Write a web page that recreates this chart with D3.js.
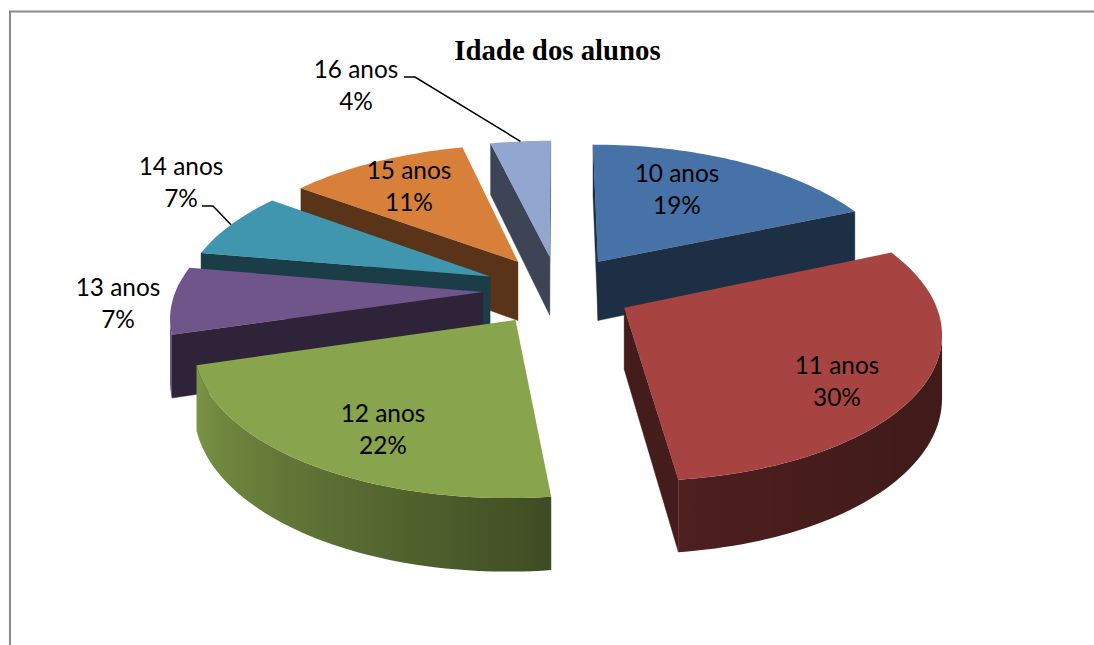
<!DOCTYPE html>
<html><head><meta charset="utf-8">
<script src="https://cdn.jsdelivr.net/npm/d3@7"></script>
<style>html,body{margin:0;padding:0;background:#fff;overflow:hidden}svg{display:block}</style>
</head><body><svg id="c" width="1094" height="645"></svg>
<script>
const title = "Idade dos alunos";
const categories = ["10 anos","11 anos","12 anos","13 anos","14 anos","15 anos","16 anos"];
const students = [5,8,6,2,2,3,1];
const topColors = ["#4672a7","#a74442","#88a44c","#70558b","#4096ae","#d8803a","#92a7cf"];

// layout
const W=1094,H=645;
const cam={cx:558,cy:290,k:0.00048,t:0.463};
const R=307, EXPLODE=75, DEPTH=60.5;
const labelPos=[[677,190],[837,382],[383,430],[118,304],[181,183],[409,187],[356,86]];
const drawOrder=[6,0,5,4,3,1,2];
const leaders={6:[[404,77],[415,77]],4:[[202,206],[213,206]]};

const svg=d3.select("#c");
const defs=svg.append("defs");
const rad=d=>d*Math.PI/180;
function project(X,Y,Z){const s=1/(1-cam.k*Y);return [cam.cx+X*s, cam.cy+(Y*cam.t-Z)*s];}
const pie=d3.pie().sort(null).value(d=>d);
const arcs=pie(students);
const total=d3.sum(students);
const pct=d3.format(".0%");
const shade=d3.scaleLinear().domain([60,130,173,210,255,300,360]).range([.38,.39,.46,.68,.92,.5,.42]);
const RADIAL=.41;
function dim(c,f){const r=d3.rgb(c);return d3.rgb(r.r*f,r.g*f,r.b*f).formatHex();}
function area(p){let a=0;p.forEach((q,i)=>{const n=p[(i+1)%p.length];a+=q[0]*n[1]-n[0]*q[1];});return a/2;}
const line=d3.line();

function slicePts(a){
  const mid=(a.startAngle+a.endAngle)/2;
  const ox=Math.sin(mid)*EXPLODE, oy=-Math.cos(mid)*EXPLODE;
  const n=Math.max(12,Math.ceil((a.endAngle-a.startAngle)/rad(1.5)));
  const angs=d3.range(n+1).map(i=>a.startAngle+(a.endAngle-a.startAngle)*i/n);
  const pt=(ang,r,z)=>project(ox+Math.sin(ang)*r,oy-Math.cos(ang)*r,z);
  return {angs,pt};
}
const g=svg.append("g");
svg.append("path").attr("d",line([[10,H],[10,11.5],[W,11.5]])).attr("fill","none").attr("stroke","#8a8a8a").attr("stroke-width",2);

drawOrder.forEach(i=>{
  const a=arcs[i], {angs,pt}=slicePts(a), col=topColors[i];
  const sg=g.append("g");
  const ap=z=>pt(0,0,z), st=z=>pt(angs[0],R,z), en=z=>pt(angs[angs.length-1],R,z);
  const quad=(p,q)=>[p(0),q(0),q(-DEPTH),p(-DEPTH)];
  [[ap,st],[en,ap]].forEach(([p,q])=>{
    const poly=quad(p,q);
    if(area(poly)<0){const f=dim(col,RADIAL);sg.append("path").attr("d",line(poly)+"Z").attr("fill",f).attr("stroke",f).attr("stroke-width",.4);}
  });
  // outer wall: visible angle run, one path with a horizontal gradient of the shade
  const vis=[];
  for(let j=0;j<angs.length-1;j++){
    const p=z=>pt(angs[j],R,z), q=z=>pt(angs[j+1],R,z);
    if(area(quad(p,q))<0){ if(!vis.includes(angs[j])) vis.push(angs[j]); vis.push(angs[j+1]); }
  }
  if(vis.length>1){
    const topEdge=vis.map(t=>pt(t,R,0)), botEdge=vis.map(t=>pt(t,R,-DEPTH)).reverse();
    const xs=topEdge.concat(botEdge).map(d=>d[0]);
    const x0=d3.min(xs), x1=d3.max(xs);
    const id="w"+i;
    const lg=defs.append("linearGradient").attr("id",id).attr("gradientUnits","userSpaceOnUse")
      .attr("x1",x0).attr("x2",x1).attr("y1",0).attr("y2",0);
    const stops=vis.map(t=>({o:(pt(t,R,-DEPTH/2)[0]-x0)/(x1-x0),c:dim(col,shade(t*180/Math.PI))})).sort((u,v)=>u.o-v.o);
    stops.forEach(s=>lg.append("stop").attr("offset",Math.min(1,Math.max(0,s.o))).attr("stop-color",s.c));
    sg.append("path").attr("d",line(topEdge.concat(botEdge))+"Z").attr("fill",`url(#${id})`);
  }
  const top=[pt(0,0,0)].concat(angs.map(t=>pt(t,R,0)));
  sg.append("path").attr("d",line(top)+"Z").attr("fill",col);
});

// leader lines
Object.keys(leaders).forEach(k=>{
  const a=arcs[+k],{pt}=slicePts(a);
  const end=pt((a.startAngle+a.endAngle)/2,R,0);
  svg.append("path").attr("d",line(leaders[k].concat([end]))).attr("fill","none").attr("stroke","#000").attr("stroke-width",1.5);
});

// labels
categories.forEach((c,i)=>{
  const [x,y]=labelPos[i];
  const t=svg.append("text").attr("text-anchor","middle").attr("font-family","Lato, 'Open Sans', sans-serif").attr("font-size",24.4).attr("fill","#000");
  t.append("tspan").attr("x",x).attr("y",y-8).text(c);
  t.append("tspan").attr("x",x).attr("y",y+24).text(pct(students[i]/total));
});
svg.append("text").attr("x",557.5).attr("y",60).attr("text-anchor","middle").attr("font-family","'Liberation Serif',serif").attr("font-weight","bold").attr("font-size",28.8).attr("fill","#000").text(title);
</script></body></html>
